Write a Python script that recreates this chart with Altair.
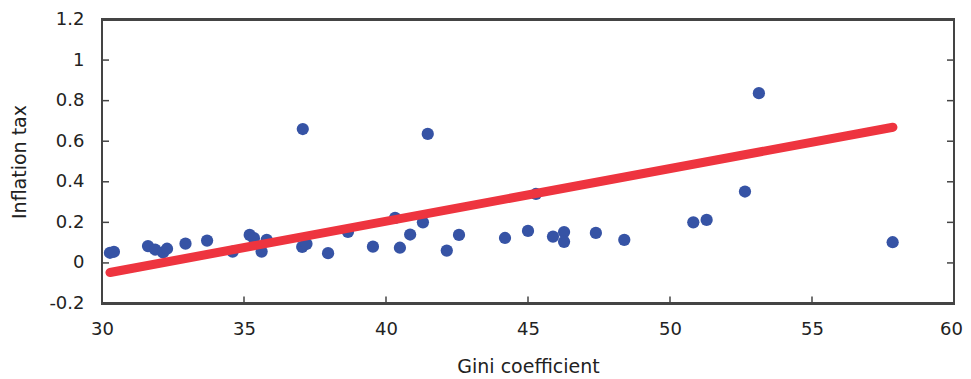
import altair as alt
import pandas as pd

gini = [30.28, 30.42, 31.62, 31.87, 32.15, 32.29, 32.94, 33.70, 34.60, 35.20,
        35.35, 35.62, 35.80, 37.05, 37.20, 37.07, 37.96, 38.66, 39.54, 40.32,
        40.49, 40.85, 41.30, 41.47, 42.14, 42.57, 44.19, 45.00, 45.28, 45.88,
        46.27, 46.27, 47.39, 48.39, 50.82, 51.29, 52.64, 53.13, 57.84]
inflation = [0.050, 0.055, 0.083, 0.066, 0.052, 0.070, 0.095, 0.110, 0.056, 0.138,
             0.122, 0.056, 0.114, 0.079, 0.094, 0.660, 0.048, 0.153, 0.080, 0.222,
             0.075, 0.140, 0.200, 0.636, 0.061, 0.138, 0.123, 0.158, 0.340, 0.130,
             0.152, 0.104, 0.148, 0.114, 0.200, 0.212, 0.352, 0.837, 0.102]

fit_x = [30.28, 57.85]
fit_y = [-0.047, 0.669]

x_ticks = [30, 35, 40, 45, 50, 55, 60]
y_ticks = [-0.2, 0, 0.2, 0.4, 0.6, 0.8, 1.0, 1.2]

W, H = 852, 284
FONT = "DejaVu Sans"
LSIZE = 18
TSIZE = 19
TXT = "#222"
FRAME = "#444"

pts = pd.DataFrame({"gini": gini, "tax": inflation})
fit = pd.DataFrame({"gini": fit_x, "tax": fit_y})
yt = pd.DataFrame({"v": y_ticks})
xt = pd.DataFrame({"v": x_ticks})

xs = alt.Scale(domain=[30, 60], nice=False, zero=False)
ys = alt.Scale(domain=[-0.2, 1.2], nice=False, zero=False)

xaxis = alt.Axis(values=x_ticks, title="Gini coefficient", ticks=False, domain=False,
                 grid=False, labelFont=FONT, labelFontSize=LSIZE, labelColor=TXT,
                 labelPadding=17, labelFlush=False, titleFont=FONT, titleFontSize=TSIZE,
                 titleFontWeight="normal", titleColor=TXT, titlePadding=19, format="d",
                 labelOffset={"condition": {"test": "datum.value == 60", "value": -3}, "value": 0})
yaxis = alt.Axis(values=y_ticks, title="Inflation tax", ticks=False, domain=False,
                 grid=False, labelFont=FONT, labelFontSize=LSIZE, labelColor=TXT,
                 labelPadding=18, labelFlush=False, titleFont=FONT, titleFontSize=TSIZE,
                 titleFontWeight="normal", titleColor=TXT, titlePadding=19,
                 labelExpr="replace(datum.value == 0 ? '0' : format(datum.value, '.1~f'), '\u2212', '-')")

points = alt.Chart(pts).mark_circle(size=150, color="#3653a5", opacity=1).encode(
    x=alt.X("gini:Q", scale=xs, axis=xaxis),
    y=alt.Y("tax:Q", scale=ys, axis=yaxis),
)

line = alt.Chart(fit).mark_line(color="#ee343f", strokeWidth=9, strokeCap="round").encode(
    x=alt.X("gini:Q", scale=xs),
    y=alt.Y("tax:Q", scale=ys),
)

frame = alt.Chart(pts).mark_rect(fill=None, stroke=FRAME, strokeWidth=2).encode(
    x=alt.value(0), x2=alt.value(W), y=alt.value(0), y2=alt.value(H))

left_ticks = alt.Chart(yt).mark_rule(color=FRAME, strokeWidth=1.5).encode(
    y=alt.Y("v:Q", scale=ys), x=alt.value(0), x2=alt.value(7))
right_ticks = alt.Chart(yt).mark_rule(color=FRAME, strokeWidth=1.5).encode(
    y=alt.Y("v:Q", scale=ys), x=alt.value(W - 7), x2=alt.value(W))
bottom_ticks = alt.Chart(xt).mark_rule(color=FRAME, strokeWidth=1.5).encode(
    x=alt.X("v:Q", scale=xs), y=alt.value(H - 7), y2=alt.value(H))

chart = alt.layer(points, line, left_ticks, right_ticks, bottom_ticks, frame).properties(
    width=W, height=H,
    background="white",
    autosize=alt.AutoSizeParams(type="none"),
    padding={"left": 94, "top": 11.5, "right": 9, "bottom": 74},
).configure_view(stroke=None)

chart.save("out.html", embed_options={"renderer": "svg", "actions": False})
